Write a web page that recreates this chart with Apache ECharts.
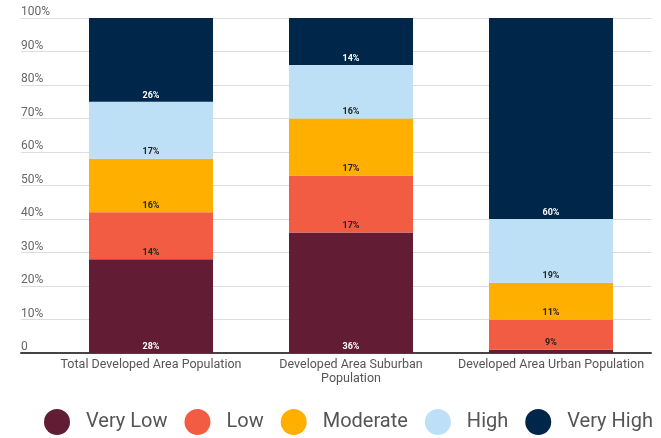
<!DOCTYPE html>
<html>
<head>
<meta charset="utf-8">
<script src="https://cdn.jsdelivr.net/npm/echarts@6/dist/echarts.min.js"></script>
<style>
html,body{margin:0;padding:0;background:#fff;}
#chart{width:661px;height:438px;}
</style>
</head>
<body>
<div id="chart"></div>
<script>
var categories = ['Total Developed Area Population', 'Developed Area Suburban\nPopulation', 'Developed Area Urban Population'];
var seriesNames = ['Very Low', 'Low', 'Moderate', 'High', 'Very High'];
var veryLow = [28, 36, 1];
var low = [14, 17, 9];
var moderate = [16, 17, 11];
var high = [17, 16, 19];
var veryHigh = [26, 14, 60];
var yTicks = [0, 10, 20, 30, 40, 50, 60, 70, 80, 90, 100];

var colors = ['#621c33', '#f25c42', '#ffaf00', '#bde0f6', '#00264a'];
var labelColors = ['#ffffff', '#222222', '#222222', '#222222', '#ffffff'];
var values = [veryLow, low, moderate, high, veryHigh];

var series = values.map(function (arr, i) {
  return {
    name: seriesNames[i],
    type: 'bar',
    stack: 'total',
    xAxisIndex: 1,
    yAxisIndex: 1,
    barWidth: '62%',
    itemStyle: { color: colors[i] },
    label: {
      show: true,
      position: 'insideBottom',
      distance: 2,
      formatter: '{c}%',
      fontFamily: 'Roboto',
      fontSize: 9,
      fontWeight: 'bold',
      color: labelColors[i]
    },
    data: arr.map(function (v) {
      return v < 3 ? { value: v, label: { show: false } } : v;
    })
  };
});

var chart = echarts.init(document.getElementById('chart'));
chart.setOption({
  animation: false,
  textStyle: { fontFamily: 'Roboto' },
  grid: [
    { left: 21, right: 10, top: 18, bottom: 85 },
    { left: 51, right: 10, top: 18, bottom: 85 }
  ],
  legend: {
    data: seriesNames,
    left: 44,
    top: 409,
    width: 617,
    padding: 0,
    icon: 'circle',
    itemWidth: 26,
    itemHeight: 26,
    itemGap: 17,
    textStyle: { fontFamily: 'Roboto', fontSize: 20, color: '#555555', padding: [0, 0, 0, 11] }
  },
  xAxis: [
    {
      gridIndex: 0, type: 'value', min: 0, max: 1,
      axisLabel: { show: false }, axisTick: { show: false }, splitLine: { show: false },
      axisLine: { show: true, lineStyle: { color: '#444444', width: 2 } }
    },
    {
      gridIndex: 1, type: 'category', data: categories,
      axisLine: { show: false }, axisTick: { show: false },
      axisLabel: { margin: 5, fontSize: 12.5, lineHeight: 14, color: '#555555', fontFamily: 'Roboto', interval: 0 }
    }
  ],
  yAxis: [
    {
      gridIndex: 0, type: 'value', min: yTicks[0], max: yTicks[yTicks.length - 1], interval: 10,
      axisLine: { show: false }, axisTick: { show: false },
      splitLine: { lineStyle: { color: '#dddddd', width: 1 } },
      axisLabel: {
        inside: true, margin: 0, align: 'left', verticalAlign: 'bottom',
        padding: [0, 0, 0, 0],
        fontSize: 12, color: '#666666', fontFamily: 'Roboto',
        formatter: function (v) { return v === 0 ? '0' : v + '%'; }
      }
    },
    {
      gridIndex: 1, type: 'value', min: 0, max: 100, show: false
    }
  ],
  series: series
});
</script>
</body>
</html>
